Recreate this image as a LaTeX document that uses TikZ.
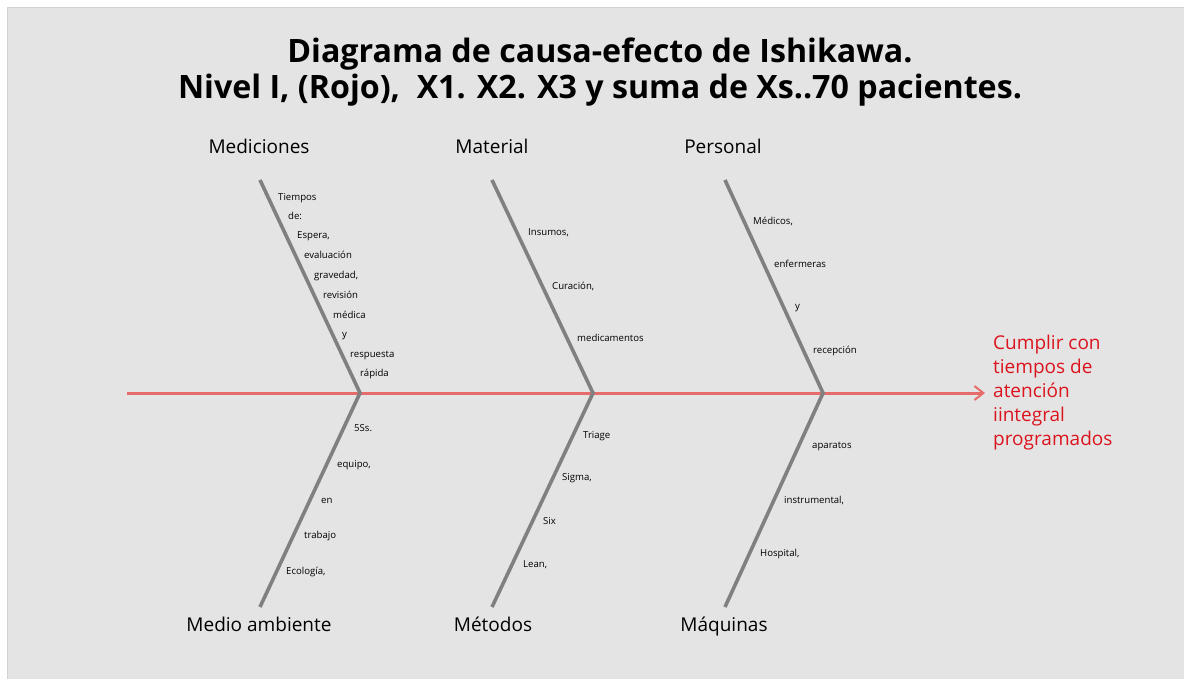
\documentclass[tikz,border=0pt]{standalone}
\usepackage{fontspec}
\setmainfont{Open Sans}
\usetikzlibrary{arrows.meta}
\definecolor{bg}{RGB}{228,228,228}
\definecolor{bgedge}{RGB}{210,210,210}
\definecolor{bone}{RGB}{128,128,128}
\definecolor{spine}{RGB}{230,108,108}
\definecolor{effect}{RGB}{220,20,30}
\tikzset{
  bonel/.style={draw=bone,line width=3.6pt},
  spinel/.style={draw=spine,line width=3pt},
  cat/.style={inner sep=0pt,anchor=base,font=\fontsize{19}{22}\selectfont},
  small/.style={anchor=west,inner sep=0pt,text height=7pt,text depth=2pt,font=\fontsize{9.6}{11}\selectfont},
  ttl/.style={inner sep=0pt,anchor=base,font=\fontsize{32.2}{36}\selectfont\bfseries},
}
\begin{document}
\begin{tikzpicture}[x=1pt,y=-1pt]
\useasboundingbox (0,0) rectangle (1184,679);
\fill[bg,draw=bgedge,line width=1pt] (7,8) rectangle (1184,679);
% title
\node[ttl] (t1) at (600,63) {Diagrama de causa-efecto de Ishikawa.};
\node[ttl] (t2) at (600,99) {Nivel I, (Rojo),\ \ X1. X2. X3 y suma de Xs..70 pacientes.};
% spine
\coordinate (s0) at (127,393);
\coordinate (s1) at (985,393);
\draw[spinel,-{Straight Barb[length=9pt,width=14pt,line width=2pt]}] (s0) -- (s1);
% joints
\coordinate (j1) at (360,393);
\coordinate (j2) at (593,393);
\coordinate (j3) at (823,393);
\coordinate (a1) at (260,180);
\coordinate (a2) at (492,180);
\coordinate (a3) at (725,180);
\coordinate (b1) at (260,607);
\coordinate (b2) at (492,607);
\coordinate (b3) at (725,607);
\draw[bonel] (a1) -- (j1) -- (b1);
\draw[bonel] (a2) -- (j2) -- (b2);
\draw[bonel] (a3) -- (j3) -- (b3);
% categories
\node[cat] (c1) at (259,153.5) {Mediciones};
\node[cat] (c2) at (492,153.5) {Material};
\node[cat] (c3) at (723,153.5) {Personal};
\node[cat] (c4) at (259,631.5) {Medio ambiente};
\node[cat] (c5) at (493,631.5) {Métodos};
\node[cat] (c6) at (724,631.5) {Máquinas};
% Mediciones
\node[small] (m1) at (278,198) {Tiempos};
\node[small] (m2) at (288,217) {de:};
\node[small] (m3) at (297,236) {Espera,};
\node[small] (m4) at (304,256) {evaluación};
\node[small] (m5) at (314,276) {gravedad,};
\node[small] (m6) at (323,296) {revisión};
\node[small] (m7) at (333,316) {médica};
\node[small] (m8) at (342,335) {y};
\node[small] (m9) at (350,355) {respuesta};
\node[small] (m10) at (360,374) {rápida};
% Material
\node[small] (ma1) at (528,233) {Insumos,};
\node[small] (ma2) at (552,287) {Curación,};
\node[small] (ma3) at (577,339) {medicamentos};
% Personal
\node[small] (p1) at (753,222) {Médicos,};
\node[small] (p2) at (774,265) {enfermeras};
\node[small] (p3) at (795,307) {y};
\node[small] (p4) at (813,351) {recepción};
% Medio ambiente
\node[small] (e1) at (354,429) {5Ss.};
\node[small] (e2) at (337,465) {equipo,};
\node[small] (e3) at (321,501) {en};
\node[small] (e4) at (304,536) {trabajo};
\node[small] (e5) at (286,572) {Ecología,};
% Metodos
\node[small] (t1a) at (583,436) {Triage};
\node[small] (t2a) at (562,478) {Sigma,};
\node[small] (t3a) at (543,522) {Six};
\node[small] (t4a) at (523,565) {Lean,};
% Maquinas
\node[small] (q1) at (812,446) {aparatos};
\node[small] (q2) at (784,501) {instrumental,};
\node[small] (q3) at (760,554) {Hospital,};
% effect
\node[anchor=west,inner sep=0pt,text=effect,align=left,font=\fontsize{19}{24}\selectfont] (eff) at (993,393) {Cumplir con\\tiempos de\\atención\\iintegral\\programados};
\end{tikzpicture}
\end{document}
